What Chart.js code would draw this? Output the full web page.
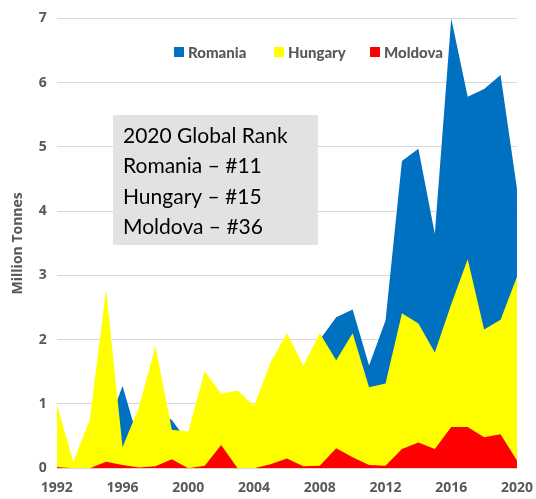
<!DOCTYPE html>
<html lang="en">
  <head>
    <meta charset="UTF-8" />
    <title>Production</title>
    <script src="https://cdn.jsdelivr.net/npm/chart.js"></script>
    <style>
      body { margin: 0; background: #fff; }
      #wrap { width: 536px; height: 499px; }
    </style>
  </head>
  <body>
    <div id="wrap"><canvas id="myChart"></canvas></div>
    <script>
      const years = [];
      for (let y = 1992; y <= 2020; y++) years.push(String(y));

      const romania = [0.5, 0.05, 0.5, 0.6, 1.28, 0.4, 0.9, 0.75, 0.4, 1.2, 0.9, 1.0, 0.8, 1.4, 1.8, 1.5, 2.0,
        2.35, 2.47, 1.6, 2.3, 4.78, 4.97, 3.65, 7.0, 5.78, 5.9, 6.12, 4.35];
      const hungary = [1.0, 0.1, 0.75, 2.78, 0.33, 0.95, 1.9, 0.6, 0.57, 1.51, 1.16, 1.21, 0.97, 1.64, 2.1, 1.6, 2.1,
        1.68, 2.1, 1.26, 1.32, 2.41, 2.25, 1.8, 2.55, 3.25, 2.16, 2.31, 2.98];
      const moldova = [0.02, 0, 0, 0.1, 0.05, 0.01, 0.03, 0.14, 0, 0.04, 0.36, 0, 0, 0.06, 0.15, 0.03, 0.04,
        0.31, 0.17, 0.05, 0.04, 0.3, 0.4, 0.3, 0.64, 0.64, 0.48, 0.53, 0.12];

      const rankLines = ["2020 Global Rank", "Romania \u2013 #11", "Hungary \u2013 #15", "Moldova \u2013 #36"];

      const grey = "#595959";

      // rank box + legend drawn on top of the plot
      const overlay = {
        id: "overlay",
        afterDatasetsDraw(chart) {
          const ctx = chart.ctx;
          ctx.save();
          ctx.fillStyle = "#e2e2e2";
          ctx.fillRect(113, 115, 205, 130);
          ctx.fillStyle = "#000";
          ctx.font = "21px Lato";
          ctx.textBaseline = "middle";
          rankLines.forEach((t, i) => ctx.fillText(t, 123, 136 + i * 30.5));

          // legend
          ctx.font = "900 15px Lato";
          const xs = [174, 274, 370];
          chart.data.datasets.slice().reverse().forEach((ds, i) => {
            ctx.fillStyle = ds.backgroundColor;
            ctx.fillRect(xs[i], 47, 10, 10);
            ctx.fillStyle = grey;
            ctx.fillText(ds.label, xs[i] + 14, 53);
          });
          ctx.restore();
        },
      };

      const ctx = document.getElementById("myChart");
      new Chart(ctx, {
        type: "line",
        data: {
          labels: years,
          datasets: [
            { label: "Moldova", data: moldova, backgroundColor: "#ff0000", order: 1 },
            { label: "Hungary", data: hungary, backgroundColor: "#ffff00", order: 2 },
            { label: "Romania", data: romania, backgroundColor: "#0070c0", order: 3 },
          ].map((d) => ({ ...d, fill: "origin", borderWidth: 0, pointRadius: 0, tension: 0 })),
        },
        options: {
          responsive: true,
          maintainAspectRatio: false,
          animation: false,
          layout: { padding: { top: 17, right: 16, left: 8, bottom: 0 } },
          plugins: { legend: { display: false }, tooltip: { enabled: false } },
          scales: {
            x: {
              offset: false,
              grid: { display: false },
              border: { display: false },
              ticks: {
                autoSkip: false,
                maxRotation: 0,
                color: grey,
                font: { family: "'Open Sans'", weight: "bold", size: 14 },
                callback: (v, i) => ((1992 + i) % 4 === 0 ? years[i] : ""),
              },
            },
            y: {
              min: 0,
              max: 7,
              grid: { color: "#d9d9d9", drawTicks: false },
              border: { display: false },
              ticks: {
                stepSize: 1,
                padding: 10,
                color: grey,
                font: { family: "'Open Sans'", weight: "bold", size: 14 },
              },
              title: {
                display: true,
                text: "Million Tonnes",
                color: grey,
                padding: { top: 2, bottom: 2 },
                font: { family: "'Open Sans'", weight: "bold", size: 14 },
              },
            },
          },
        },
        plugins: [overlay],
      });
    </script>
  </body>
</html>
